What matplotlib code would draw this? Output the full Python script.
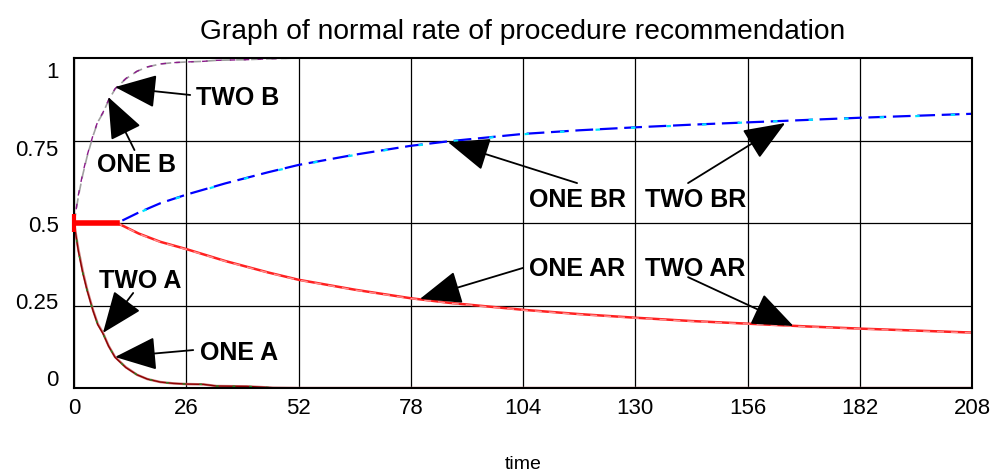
import matplotlib
matplotlib.use("Agg")
import matplotlib.pyplot as plt
from matplotlib.ticker import FixedLocator

plt.rcParams['font.family'] = ['Liberation Sans', 'DejaVu Sans']

# fast curves (ONE A / TWO A fall, ONE B / TWO B rise)
t_fast = [0, 1, 2, 3, 4.4, 5.5, 6.7, 8, 9.5, 12, 14.6, 17, 20, 23, 26, 30, 33, 40, 46, 52, 60, 80, 104, 130, 156, 182, 208]
one_a = [0.5, 0.42, 0.355, 0.30, 0.236, 0.194, 0.167, 0.128, 0.094, 0.063, 0.040, 0.027, 0.018, 0.014, 0.012, 0.011, 0.006, 0.005, 0.001, 0, 0, 0, 0, 0, 0, 0, 0]
two_a = [0.5, 0.415, 0.35, 0.297, 0.234, 0.192, 0.165, 0.127, 0.093, 0.062, 0.040, 0.027, 0.018, 0.014, 0.012, 0.011, 0.006, 0.005, 0.001, 0, 0, 0, 0, 0, 0, 0, 0]
one_b = [0.5, 0.58, 0.645, 0.70, 0.764, 0.806, 0.833, 0.872, 0.906, 0.937, 0.96, 0.973, 0.982, 0.986, 0.988, 0.99, 0.993, 0.995, 0.998, 1, 1, 1, 1, 1, 1, 1, 1]
two_b = [0.5, 0.585, 0.65, 0.703, 0.766, 0.808, 0.835, 0.873, 0.907, 0.938, 0.96, 0.973, 0.982, 0.986, 0.988, 0.99, 0.993, 0.995, 0.998, 1, 1, 1, 1, 1, 1, 1, 1]

# slow curves (ONE BR / TWO BR rise, ONE AR / TWO AR fall)
t_slow = [0, 10, 15, 20, 26, 35, 45, 52, 65, 78, 87, 104, 117, 130, 143, 156, 169, 182, 195, 208]
one_br = [0.5, 0.5, 0.532, 0.56, 0.586, 0.62, 0.654, 0.676, 0.707, 0.734, 0.748, 0.77, 0.781, 0.79, 0.798, 0.805, 0.812, 0.819, 0.825, 0.831]
two_br = [0.5, 0.5, 0.531, 0.559, 0.585, 0.619, 0.653, 0.675, 0.706, 0.733, 0.747, 0.769, 0.78, 0.789, 0.797, 0.805, 0.812, 0.818, 0.824, 0.83]
one_ar = [0.5, 0.5, 0.468, 0.443, 0.421, 0.385, 0.35, 0.328, 0.298, 0.272, 0.258, 0.237, 0.224, 0.213, 0.203, 0.195, 0.187, 0.180, 0.174, 0.168]
two_ar = [0.5, 0.5, 0.467, 0.442, 0.42, 0.384, 0.349, 0.327, 0.297, 0.271, 0.257, 0.236, 0.223, 0.212, 0.202, 0.194, 0.186, 0.179, 0.173, 0.167]

x_ticks = [0, 26, 52, 78, 104, 130, 156, 182, 208]
y_grid = [0.25, 0.5, 0.75]
y_label_pos = [0.03, 0.264, 0.498, 0.726, 0.964]
y_labels = ['0', '0.25', '0.5', '0.75', '1']

# label, text position (left, centre), arrow tail, arrow tip
notes = [
    ('TWO B', (28.3, 0.879), (26.9, 0.888), (9.5, 0.912)),
    ('ONE B', (5.3, 0.676), (14.0, 0.721), (7.9, 0.882)),
    ('TWO A', (5.8, 0.324), (13.7, 0.288), (6.7, 0.167)),
    ('ONE A', (29.2, 0.106), (27.6, 0.115), (9.5, 0.094)),
    ('ONE BR', (105.4, 0.57), (116.5, 0.621), (86.6, 0.745)),
    ('TWO BR', (132.3, 0.57), (142.2, 0.621), (164.7, 0.803)),
    ('ONE AR', (105.4, 0.36), (104.0, 0.364), (80.1, 0.27)),
    ('TWO AR', (132.3, 0.362), (142.2, 0.336), (166.6, 0.188)),
]

fig = plt.figure(figsize=(9.91, 4.74), dpi=100)
ax = fig.add_axes([0.0747, 0.1814, 0.9063, 0.6962])

ax.plot(t_fast, one_b, color='#a0a0a0', lw=1.2, dashes=(6, 3))
ax.plot(t_fast, two_b, color='#8b1a8b', lw=1.0, dashes=(4, 6))
ax.plot(t_fast, one_a, color='#d08080', lw=1.8)
ax.plot(t_fast, two_a, color='#8b0000', lw=1.0)
ax.plot(t_fast, two_a, color='#228b22', lw=1.0, dashes=(2, 10))

ax.plot(t_slow, one_br, color='#0000ff', lw=1.6, dashes=(8, 3))
ax.plot(t_slow, two_br, color='#00e5ff', lw=1.6, dashes=(2, 14))
ax.plot(t_slow, one_ar, color='#ff2020', lw=1.8)
ax.plot(t_slow, two_ar, color='#ff9090', lw=1.0, dashes=(5, 5))
ax.plot(t_slow[:2], one_ar[:2], color='#ff0000', lw=4)
ax.plot(t_slow[:1], one_ar[:1], marker='|', color='#ff0000', ms=13, mew=3, clip_on=False, zorder=5)

for label, txt, tail, tip in notes:
    ax.text(txt[0], txt[1], label, fontsize=18, fontweight='bold', ha='left', va='center')
    ax.annotate('', xy=tip, xytext=tail,
                arrowprops=dict(arrowstyle='-|>,head_length=1.75,head_width=0.7',
                                mutation_scale=15, color='black', lw=1.3,
                                shrinkA=0, shrinkB=0))

ax.set_xlim(0, 208)
ax.set_ylim(0, 1)
ax.set_xticks(x_ticks)
ax.set_xticklabels([str(v) for v in x_ticks])
ax.yaxis.set_major_locator(FixedLocator(y_label_pos))
ax.set_yticklabels(y_labels)
ax.yaxis.set_minor_locator(FixedLocator(y_grid))
ax.tick_params(axis='both', which='both', length=0, labelsize=16)
ax.tick_params(axis='x', pad=7)
ax.tick_params(axis='y', pad=11)
ax.grid(True, axis='x', color='black', lw=0.9)
ax.grid(True, axis='y', which='minor', color='black', lw=0.9)
ax.grid(False, axis='y', which='major')
for s in ax.spines.values():
    s.set_linewidth(1.5)

ax.set_title('Graph of normal rate of procedure recommendation', fontsize=20.3, pad=14)
ax.set_xlabel('time', fontsize=14)
ax.xaxis.set_label_coords(0.5, -0.205)

fig.savefig('out.png', dpi=100)
